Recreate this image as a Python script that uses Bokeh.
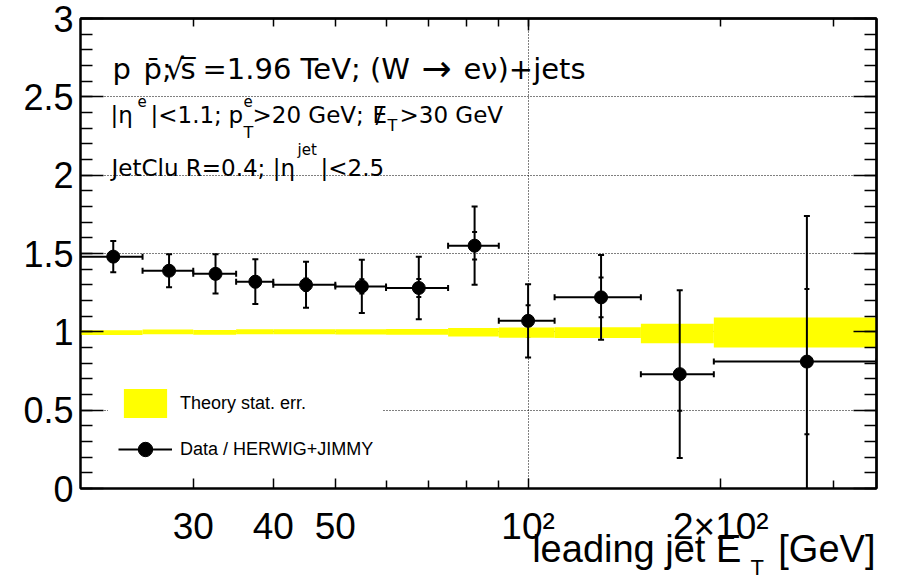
import numpy as np
from bokeh.plotting import figure
from bokeh.models import (Range1d, LinearAxis, LogAxis, FixedTicker, Whisker, TeeHead,
                          ColumnDataSource, Label, Legend, LegendItem)
from bokeh.embed import file_html
from bokeh.resources import INLINE

# Leading-jet E_T bins [GeV]
bin_lo = [20, 25, 30, 35, 40, 50, 60, 75, 90, 110, 150, 195]
bin_hi = [25, 30, 35, 40, 50, 60, 75, 90, 110, 150, 195, 350]

# Data / HERWIG+JIMMY ratio with total and statistical uncertainties
ratio = [1.48, 1.39, 1.37, 1.32, 1.30, 1.29, 1.28, 1.55, 1.07, 1.22, 0.73, 0.81]
err_total = [0.10, 0.105, 0.125, 0.143, 0.147, 0.17, 0.20, 0.25, 0.234, 0.27, 0.535, 0.93]
err_stat = [0.02, 0.025, 0.03, 0.035, 0.04, 0.045, 0.057, 0.088, 0.10, 0.127, 0.233, 0.463]

# Theory statistical band around unity
theory_mid = [0.995, 1.0, 0.997, 1.0, 1.0, 1.0, 1.0, 0.997, 0.995, 0.995, 0.989, 0.996]
theory_err = [0.015, 0.015, 0.015, 0.016, 0.016, 0.017, 0.018, 0.027, 0.032, 0.034, 0.062, 0.096]

# Axis ticks and labels
x_labelled = [30, 40, 50, 100, 200]
x_tick_labels = {30: "30", 40: "40", 50: "50", 100: "10²", 200: "2×10²"}
x_unlabelled = [60, 70, 80, 90, 300]
y_ticks = [0, 0.5, 1, 1.5, 2, 2.5, 3]
y_tick_labels = {0: "0", 0.5: "0.5", 1: "1", 1.5: "1.5", 2: "2", 2.5: "2.5", 3: "3"}
y_minor = [round(0.1 * i, 1) for i in range(31)]

# x-axis title pieces, centred on these E_T values
title_main = {147.8: "leading jet E", 292.8: "[GeV]"}
title_sub = {227.9: "T"}

FONT = "Liberation Sans"
TEXT_FONT = "DejaVu Sans"

lo = np.array(bin_lo, float)
hi = np.array(bin_hi, float)
r = np.array(ratio)
et = np.array(err_total)
es = np.array(err_stat)
tm = np.array(theory_mid)
te = np.array(theory_err)

src = ColumnDataSource(dict(
    x=(lo + hi) / 2, y=r, xlo=lo, xhi=hi,
    tlo=r - et, thi=r + et, slo=r - es, shi=r + es,
))

p = figure(width=897, height=582, x_axis_type="log",
           x_range=Range1d(20, 350), y_range=Range1d(0, 3),
           output_backend="svg", toolbar_location=None,
           min_border_left=80, min_border_right=21,
           min_border_top=18, min_border_bottom=93,
           background_fill_color="white", border_fill_color="white",
           outline_line_color="black", outline_line_width=2)

# grid: dotted lines at the labelled decade and the half units
for g, ticks in ((p.xgrid[0], [100]), (p.ygrid[0], [0.5, 1, 1.5, 2, 2.5])):
    g.ticker = FixedTicker(ticks=ticks)
    g.grid_line_color = "black"
    g.grid_line_dash = "1 2"
    g.grid_line_width = 1


def style_ticks(ax, major_in, minor_in):
    ax.major_tick_in = major_in
    ax.major_tick_out = 0
    ax.minor_tick_in = minor_in
    ax.minor_tick_out = 0
    ax.major_tick_line_width = 1.5
    ax.minor_tick_line_width = 1.5
    ax.major_tick_line_color = "black"
    ax.minor_tick_line_color = "black"
    ax.axis_line_width = 2
    ax.axis_line_color = "black"


xa = p.xaxis[0]
xa.ticker = FixedTicker(ticks=x_labelled, minor_ticks=x_unlabelled)
style_ticks(xa, 10, 8)
xa.major_label_overrides = x_tick_labels
xa.major_label_text_font = FONT
xa.major_label_text_font_size = "37px"
xa.major_label_text_color = "black"
xa.major_label_standoff = 17

ya = p.yaxis[0]
ya.ticker = FixedTicker(ticks=y_ticks, minor_ticks=y_minor)
style_ticks(ya, 23, 12)
ya.major_label_overrides = y_tick_labels
ya.major_label_text_font = FONT
ya.major_label_text_font_size = "36px"
ya.major_label_text_color = "black"
ya.major_label_standoff = 7


# mirrored tick marks on the top and right frame edges (no labels)
def tick_only_axis(cls, place, positions, length):
    ax = cls(ticker=FixedTicker(ticks=[], minor_ticks=positions))
    style_ticks(ax, 0, length)
    p.add_layout(ax, place)


tick_only_axis(LogAxis, "above", x_labelled + x_unlabelled, 8)
tick_only_axis(LogAxis, "above", [100], 12)
tick_only_axis(LinearAxis, "right", y_minor, 12)
tick_only_axis(LinearAxis, "right", y_ticks, 23)


# x-axis title drawn as label rows under the tick labels
def title_axis(labels, size, standoff):
    ax = LogAxis(ticker=FixedTicker(ticks=list(labels)))
    ax.major_tick_in = 0
    ax.major_tick_out = 0
    ax.minor_tick_in = 0
    ax.minor_tick_out = 0
    ax.axis_line_color = None
    ax.major_label_overrides = labels
    ax.major_label_text_font = FONT
    ax.major_label_text_font_size = size
    ax.major_label_text_color = "black"
    ax.major_label_standoff = standoff
    p.add_layout(ax, "below")


title_axis(title_main, "38px", -22)
title_axis(title_sub, "22px", -18)

# theory statistical band
band = p.quad(left=lo, right=hi, bottom=tm - te, top=tm + te,
              fill_color="#ffff00", line_color=None)

# data: bin widths, total error bars, end caps and statistical ticks
hbar = p.segment(x0="xlo", x1="xhi", y0="y", y1="y", source=src,
                 line_width=2, line_color="black")
p.segment(x0="x", x1="x", y0="tlo", y1="thi", source=src,
          line_width=2, line_color="black")


def caps(base, lower, upper, dim, size):
    head = dict(size=size, line_width=2, line_color="black")
    p.add_layout(Whisker(source=src, base=base, lower=lower, upper=upper,
                         dimension=dim, line_alpha=0,
                         lower_head=TeeHead(**head), upper_head=TeeHead(**head)))


caps("y", "xlo", "xhi", "width", 6)
caps("x", "tlo", "thi", "height", 6)
caps("x", "slo", "shi", "height", 5)
pts = p.scatter("x", "y", source=src, size=13, color="black")

legend = Legend(items=[
    LegendItem(label="Theory stat. err.", renderers=[band]),
    LegendItem(label="Data / HERWIG+JIMMY", renderers=[hbar, pts]),
], location=(28, 11), glyph_width=54, glyph_height=36, spacing=10, padding=10,
    margin=0, label_standoff=8, label_text_font=FONT, label_text_font_size="18px",
    label_text_color="black", border_line_alpha=0,
    background_fill_color="white", background_fill_alpha=1)
p.add_layout(legend)


# Text placed relative to the top-left corner of the frame (pixel offsets, down is negative)
def tex(text, dx, dy, size):
    p.add_layout(Label(x=20, y=3, x_offset=dx, y_offset=dy, text=text,
                       text_font=TEXT_FONT, text_font_size=f"{size}px",
                       text_align="left", text_baseline="alphabetic",
                       text_color="black"))


# p pbar; sqrt(s)=1.96 TeV; (W -> e nu)+jets
tex("p", 32, -50, 29)
tex("p̄;", 63, -50, 29)
tex("√", 85, -50, 29)
tex("s̅", 100, -50, 29)
tex("=1.96 TeV; (W", 122, -50, 29)
tex("→", 341, -50, 36)
tex("eν)+jets", 383, -50, 29)

# |eta^e|<1.1; p_T^e>20 GeV; MET>30 GeV
tex("|η", 30, -96, 23)
tex("e", 57, -82, 15)
tex("|<1.1;", 70, -96, 23)
tex("p", 148, -96, 23)
tex("e", 163, -82, 15)
tex("T", 163, -114, 16)
tex(">20 GeV;", 172, -96, 23)
tex("E", 292, -96, 23)
tex("/", 295, -96, 23)
tex("T", 307, -107, 16)
tex(">30 GeV", 319, -96, 23)

# JetClu R=0.4; |eta^jet|<2.5
tex("JetClu R=0.4; |η", 31, -149, 23)
tex("jet", 217, -131, 15)
tex("|<2.5", 240, -149, 23)

open("out.html", "w").write(file_html(p, INLINE))
